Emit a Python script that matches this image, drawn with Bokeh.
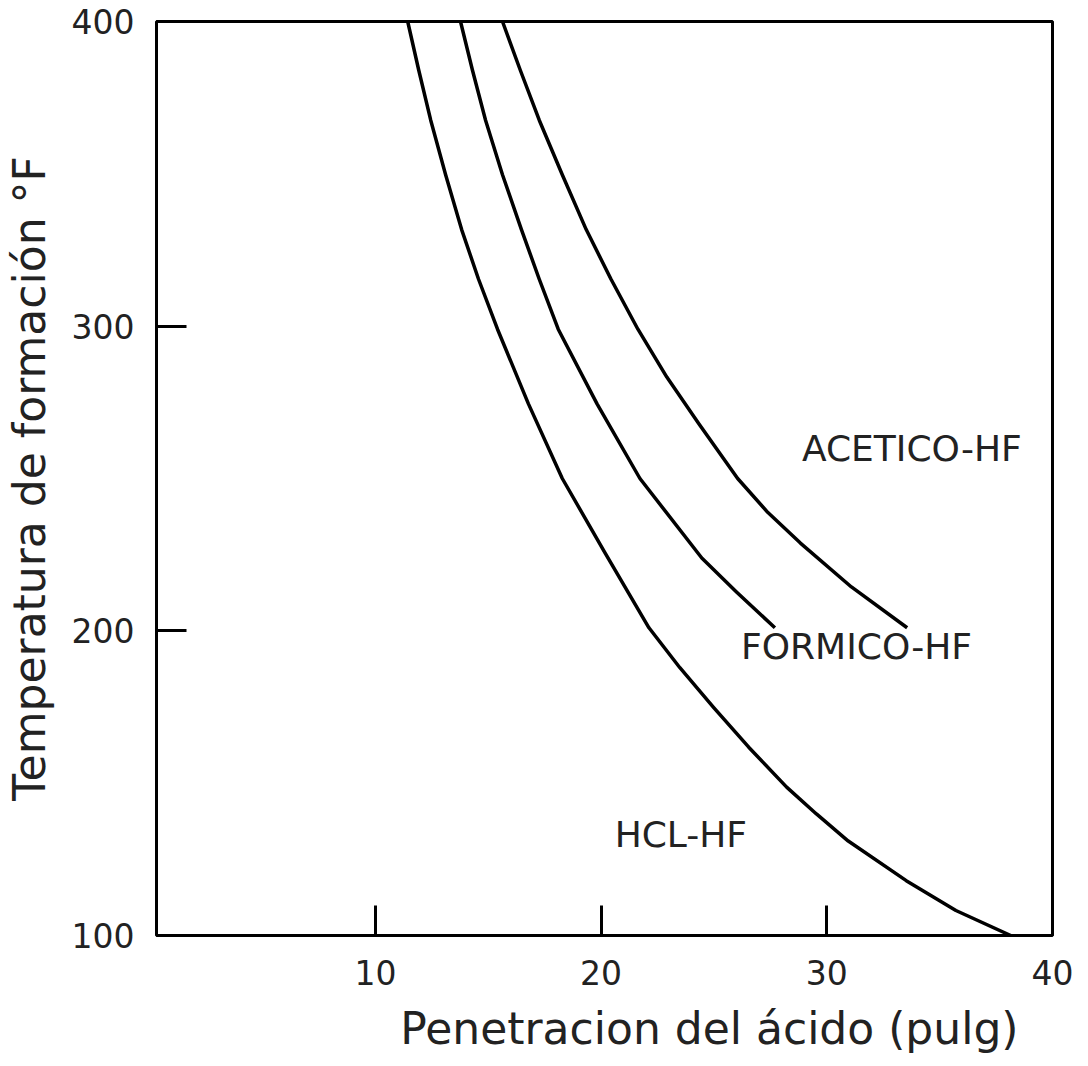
from bokeh.plotting import figure
from bokeh.models import Range1d, FixedTicker, Title
from bokeh.embed import file_html
from bokeh.resources import INLINE

# ---- data ----
hcl_x = [11.43, 11.92, 12.45, 13.11, 13.82, 14.57, 15.41, 16.78, 18.28, 20.18,
         22.12, 23.49, 24.99, 26.54, 28.22, 29.54, 30.95, 33.52, 35.72, 38.15]
hcl_y = [400, 384.0, 367.6, 349.7, 331.7, 315.4, 299.0, 274.5, 250.0, 225.5,
         201.0, 187.9, 174.8, 161.8, 148.7, 139.9, 131.0, 118.0, 108.2, 100]

formico_x = [13.77, 14.30, 14.88, 15.63, 16.47, 17.26, 18.10, 19.82, 21.72, 24.46,
             26.01, 27.70]
formico_y = [400, 384.0, 367.6, 349.7, 331.7, 315.4, 299.0, 274.5, 250.0, 223.9,
             212.7, 201.0]

acetico_x = [15.63, 16.42, 17.26, 18.28, 19.34, 20.44, 21.63, 22.91, 24.33, 26.05,
             27.38, 28.83, 31.09, 33.56]
acetico_y = [400, 384.0, 367.6, 349.7, 331.7, 315.4, 299.0, 283.3, 268.0, 250.0,
             238.9, 228.8, 214.4, 201.0]

x_ticks = [10, 20, 30, 40]
y_ticks = [100, 200, 300, 400]

region_names = ["ACETICO-HF", "FORMICO-HF", "HCL-HF"]
region_x = [28.9, 26.2, 20.6]
region_y = [260, 195, 133]

FONT = "DejaVu Sans"
TXT = "#222222"

p = figure(width=1088, height=1066, output_backend="svg", toolbar_location=None,
           x_range=Range1d(0.3, 40), y_range=Range1d(100, 400),
           min_border_left=153, min_border_right=36, min_border_top=21,
           min_border_bottom=131)

p.grid.visible = False
p.outline_line_color = "black"
p.outline_line_width = 3
p.background_fill_color = "white"
p.border_fill_color = "white"

for ax in (p.xaxis[0], p.yaxis[0]):
    ax.axis_line_color = None
    ax.major_tick_out = 0
    ax.major_tick_in = 30
    ax.major_tick_line_width = 3
    ax.major_tick_line_color = "black"
    ax.minor_tick_line_color = None
    ax.major_label_text_font = FONT
    ax.major_label_text_font_size = "33px"
    ax.major_label_text_color = TXT

p.xaxis.ticker = FixedTicker(ticks=x_ticks)
p.yaxis.ticker = FixedTicker(ticks=y_ticks)
p.xaxis.major_label_standoff = 24
p.yaxis.major_label_standoff = 22

p.yaxis.axis_label = "Temperatura de formación °F"
p.yaxis.axis_label_text_font = FONT
p.yaxis.axis_label_text_font_size = "44px"
p.yaxis.axis_label_text_font_style = "normal"
p.yaxis.axis_label_text_color = TXT
p.yaxis.axis_label_standoff = 14

xt = Title(text="Penetracion del ácido (pulg)", align="right", offset=34,
           standoff=26, text_font=FONT, text_font_size="44px",
           text_font_style="normal", text_color=TXT)
p.add_layout(xt, "below")

p.line(hcl_x, hcl_y, line_color="black", line_width=3.5, line_join="round")
p.line(formico_x, formico_y, line_color="black", line_width=3.5, line_join="round")
p.line(acetico_x, acetico_y, line_color="black", line_width=3.5, line_join="round")

p.text(x=region_x, y=region_y, text=region_names, text_font_size="36px",
       text_baseline="middle", text_align="left", text_color=TXT,
       text_font={"value": FONT})

open("out.html", "w").write(file_html(p, INLINE))
